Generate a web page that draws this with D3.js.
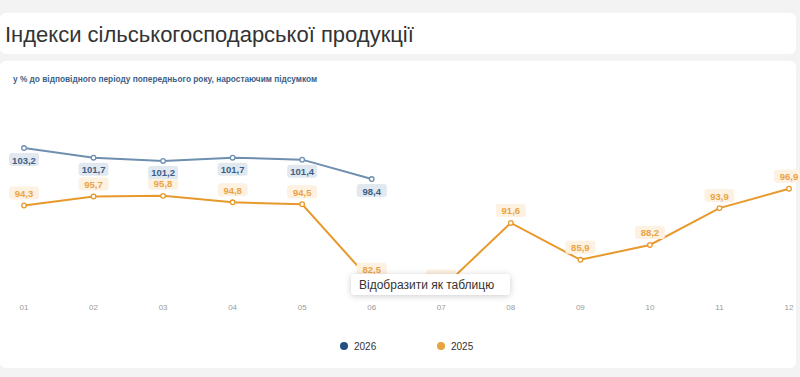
<!DOCTYPE html>
<html>
<head>
<meta charset="utf-8">
<style>
  body { margin: 0; background: #f3f3f3; font-family: "Liberation Sans", Arial, sans-serif; }
  text.axis { fill: #9a9a9a; font-size: 8px; text-anchor: middle; }
  text.lbl { font-size: 9.5px; font-weight: bold; text-anchor: middle; }
</style>
</head>
<body>
<svg id="chart" width="800" height="377"></svg>
<script src="https://cdn.jsdelivr.net/npm/d3@7"></script>
<script>
var months = ['01', '02', '03', '04', '05', '06', '07', '08', '09', '10', '11', '12'];
var values2026 = [103.2, 101.7, 101.2, 101.7, 101.4, 98.4];
var values2025 = [94.3, 95.7, 95.8, 94.8, 94.5, 82.5, 81.4, 91.6, 85.9, 88.2, 93.9, 96.9];
var seriesNames = ['2026', '2025'];

var svg = d3.select('#chart');

// cards
svg.append('rect').attr('x', 0).attr('y', 13).attr('width', 796).attr('height', 41)
  .attr('rx', 6).attr('fill', '#fff');
svg.append('rect').attr('x', 0).attr('y', 61).attr('width', 796).attr('height', 307)
  .attr('rx', 6).attr('fill', '#fff');

svg.append('text').attr('x', 5).attr('y', 42)
  .attr('font-size', 22).attr('fill', '#333')
  .text('Індекси сільськогосподарської продукції');

svg.append('text').attr('x', 13).attr('y', 82)
  .attr('font-size', 8.3).attr('font-weight', 'bold').attr('fill', '#3b5f88')
  .text('у % до відповідного періоду попереднього року, наростаючим підсумком');

var x = d3.scalePoint().domain(months).range([24, 789]);
var y = d3.scaleLinear().domain([80, 105]).range([297.9, 136.4]);

svg.selectAll('text.axis')
  .data(months)
  .enter()
  .append('text')
  .attr('class', 'axis')
  .attr('x', d => x(d))
  .attr('y', 310)
  .text(d => d);

var line = d3.line().x((d, i) => x(months[i])).y(d => y(d));

function drawSeries(vals, lineColor, txtColor, bg, dy) {
  var g = svg.append('g');
  g.append('path').datum(vals)
    .attr('d', line)
    .attr('fill', 'none')
    .attr('stroke', lineColor)
    .attr('stroke-width', 2);
  g.selectAll('circle')
    .data(vals)
    .enter()
    .append('circle')
    .attr('cx', (d, i) => x(months[i]))
    .attr('cy', d => y(d))
    .attr('r', 2.3)
    .attr('fill', '#fff')
    .attr('stroke', lineColor)
    .attr('stroke-width', 1.3);
  var lg = g.selectAll('g.lbl')
    .data(vals)
    .enter()
    .append('g')
    .attr('transform', (d, i) => 'translate(' + x(months[i]) + ',' + (y(d) + dy) + ')');
  lg.append('rect')
    .attr('x', -15).attr('y', -7).attr('width', 30).attr('height', 13)
    .attr('rx', 3).attr('fill', bg);
  lg.append('text')
    .attr('class', 'lbl')
    .attr('y', 3.5)
    .attr('fill', txtColor)
    .text(d => d.toFixed(1).replace('.', ','));
}

drawSeries(values2025, '#e8992c', '#eaa445', '#fdf1e2', -12);
drawSeries(values2026, '#6f8fb0', '#3d5f86', '#e1e8f0', 12);

// legend
var legendColors = ['#24507f', '#e8a23e'];
var legendX = [344, 441];
seriesNames.forEach(function (n, i) {
  svg.append('circle').attr('cx', legendX[i]).attr('cy', 346).attr('r', 4).attr('fill', legendColors[i]);
  svg.append('text').attr('x', legendX[i] + 10).attr('y', 350)
    .attr('font-size', 10).attr('fill', '#333').text(n);
});

// "show as table" popup
var tip = svg.append('g');
tip.append('rect').attr('x', 351).attr('y', 274).attr('width', 159).attr('height', 21)
  .attr('rx', 3).attr('fill', '#fff')
  .style('filter', 'drop-shadow(0 1px 3px rgba(0,0,0,0.2))');
tip.append('text').attr('x', 359).attr('y', 289)
  .attr('font-size', 12).attr('fill', '#333').text('Відобразити як таблицю');
</script>
</body>
</html>
